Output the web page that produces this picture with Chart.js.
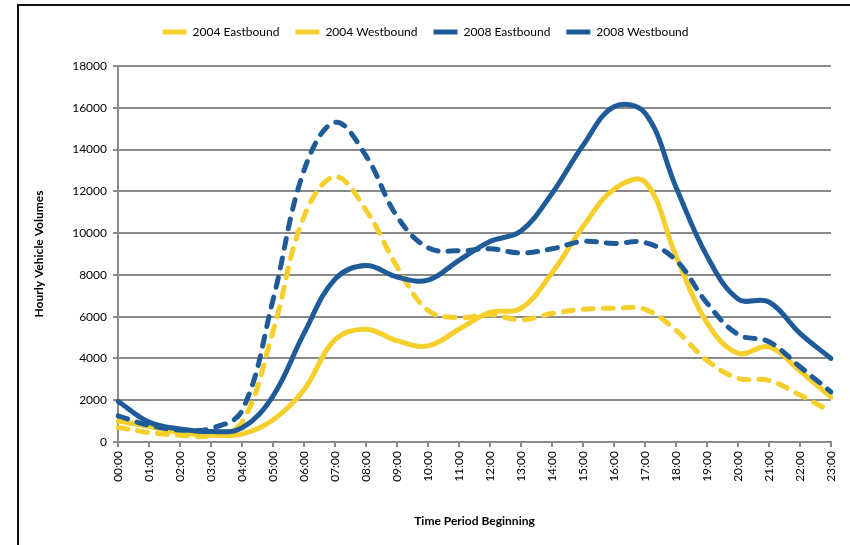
<!DOCTYPE html>
<html>
<head>
<meta charset="utf-8">
<script src="https://cdn.jsdelivr.net/npm/chart.js@4/dist/chart.umd.min.js"></script>
<style>
	body { margin: 0; background: #fff; overflow: hidden; }
	#wrap { position: relative; width: 850px; height: 545px; }
	#frame {
		position: absolute; left: 17px; top: 4px; width: 900px; height: 600px;
		border-left: 2px solid #111; border-top: 2px solid #111;
	}
	canvas { position: absolute; left: 0; top: 0; }
</style>
</head>
<body>
<div id="wrap">
	<div id="frame"></div>
	<canvas id="chart" width="850" height="545"></canvas>
</div>
<script>
// godziny
const hours = ['00:00', '01:00', '02:00', '03:00', '04:00', '05:00', '06:00', '07:00',
	'08:00', '09:00', '10:00', '11:00', '12:00', '13:00', '14:00', '15:00',
	'16:00', '17:00', '18:00', '19:00', '20:00', '21:00', '22:00', '23:00'];

const eastbound2004 = [1000, 750, 450, 330, 380, 1050, 2500, 4900, 5400, 4850, 4600, 5400,
	6200, 6400, 8100, 10300, 12100, 12450, 8900, 5700, 4250, 4550, 3400, 2150];
const westbound2004 = [700, 450, 320, 320, 950, 5300, 10800, 12700, 11100, 8400, 6300, 5950,
	6100, 5850, 6150, 6350, 6400, 6350, 5350, 3900, 3050, 2950, 2250, 1450];
const eastbound2008 = [1950, 950, 620, 500, 680, 2200, 5200, 7800, 8450, 7900, 7750, 8700,
	9600, 10100, 11900, 14200, 16050, 15750, 12200, 8900, 6850, 6700, 5200, 4000];
const westbound2008 = [1250, 800, 580, 650, 1500, 6800, 13000, 15300, 13700, 10800, 9300, 9150,
	9250, 9050, 9250, 9600, 9500, 9550, 8700, 6650, 5150, 4800, 3600, 2400];

const yellow = '#f5cf2c';
const blue = '#1f5b98';
const gridColor = '#8a8a8a';
const fontFamily = 'Lato, "Open Sans", sans-serif';

function line(label, data, color, dashed, order) {
	return {
		label,
		data,
		borderColor: color,
		backgroundColor: color,
		borderWidth: 5,
		borderDash: dashed ? [10, 10] : [],
		borderCapStyle: 'round',
		borderJoinStyle: 'round',
		pointRadius: 0,
		pointHoverRadius: 0,
		tension: 0.38,
		fill: false,
		order,
	};
}

// legenda — stała wysokość
const legendHeight = {
	id: 'legendHeight',
	beforeInit(chart) {
		const fit = chart.legend.fit;
		chart.legend.fit = function () {
			fit.call(this);
			this.height = 56;
		};
	},
};

const ctx = document.getElementById('chart').getContext('2d');
new Chart(ctx, {
	type: 'line',
	data: {
		labels: hours,
		datasets: [
			line('2004 Eastbound', eastbound2004, yellow, false, 4),
			line('2004 Westbound', westbound2004, yellow, true, 3),
			line('2008 Eastbound', eastbound2008, blue, false, 2),
			line('2008 Westbound', westbound2008, blue, true, 1),
		],
	},
	options: {
		responsive: false,
		animation: false,
		layout: { padding: { left: 20, right: 19, top: 10, bottom: 0 } },
		plugins: {
			legend: {
				position: 'top',
				labels: {
					usePointStyle: true,
					pointStyle: 'line',
					pointStyleWidth: 24,
					padding: 16,
					color: '#000',
					font: { family: fontFamily, size: 12 },
					sort: (a, b) => a.datasetIndex - b.datasetIndex,
				},
			},
			tooltip: { enabled: false },
		},
		scales: {
			x: {
				offset: false,
				border: { color: gridColor, width: 2 },
				grid: { drawOnChartArea: false, color: gridColor, lineWidth: 2, tickLength: 5 },
				ticks: {
					color: '#000',
					font: { family: fontFamily, size: 12 },
					maxRotation: 90,
					minRotation: 90,
					autoSkip: false,
					padding: 4,
				},
				title: {
					display: true,
					text: 'Time Period Beginning',
					color: '#000',
					font: { family: fontFamily, size: 12, weight: 'bold' },
					padding: { top: 20, bottom: 17 },
				},
				afterFit(scale) { scale.height = 103; },
			},
			y: {
				min: 0,
				max: 18000,
				border: { color: gridColor, width: 2 },
				grid: { color: gridColor, lineWidth: 2, tickLength: 5 },
				ticks: {
					stepSize: 2000,
					color: '#000',
					font: { family: fontFamily, size: 12 },
					padding: 6,
					callback: (value) => String(value),
				},
				title: {
					display: true,
					text: 'Hourly Vehicle Volumes',
					color: '#000',
					font: { family: fontFamily, size: 12, weight: 'bold' },
					padding: { top: 12, bottom: 20 },
				},
				afterFit(scale) { scale.width = 98; },
			},
		},
	},
	plugins: [legendHeight],
});
</script>
</body>
</html>
